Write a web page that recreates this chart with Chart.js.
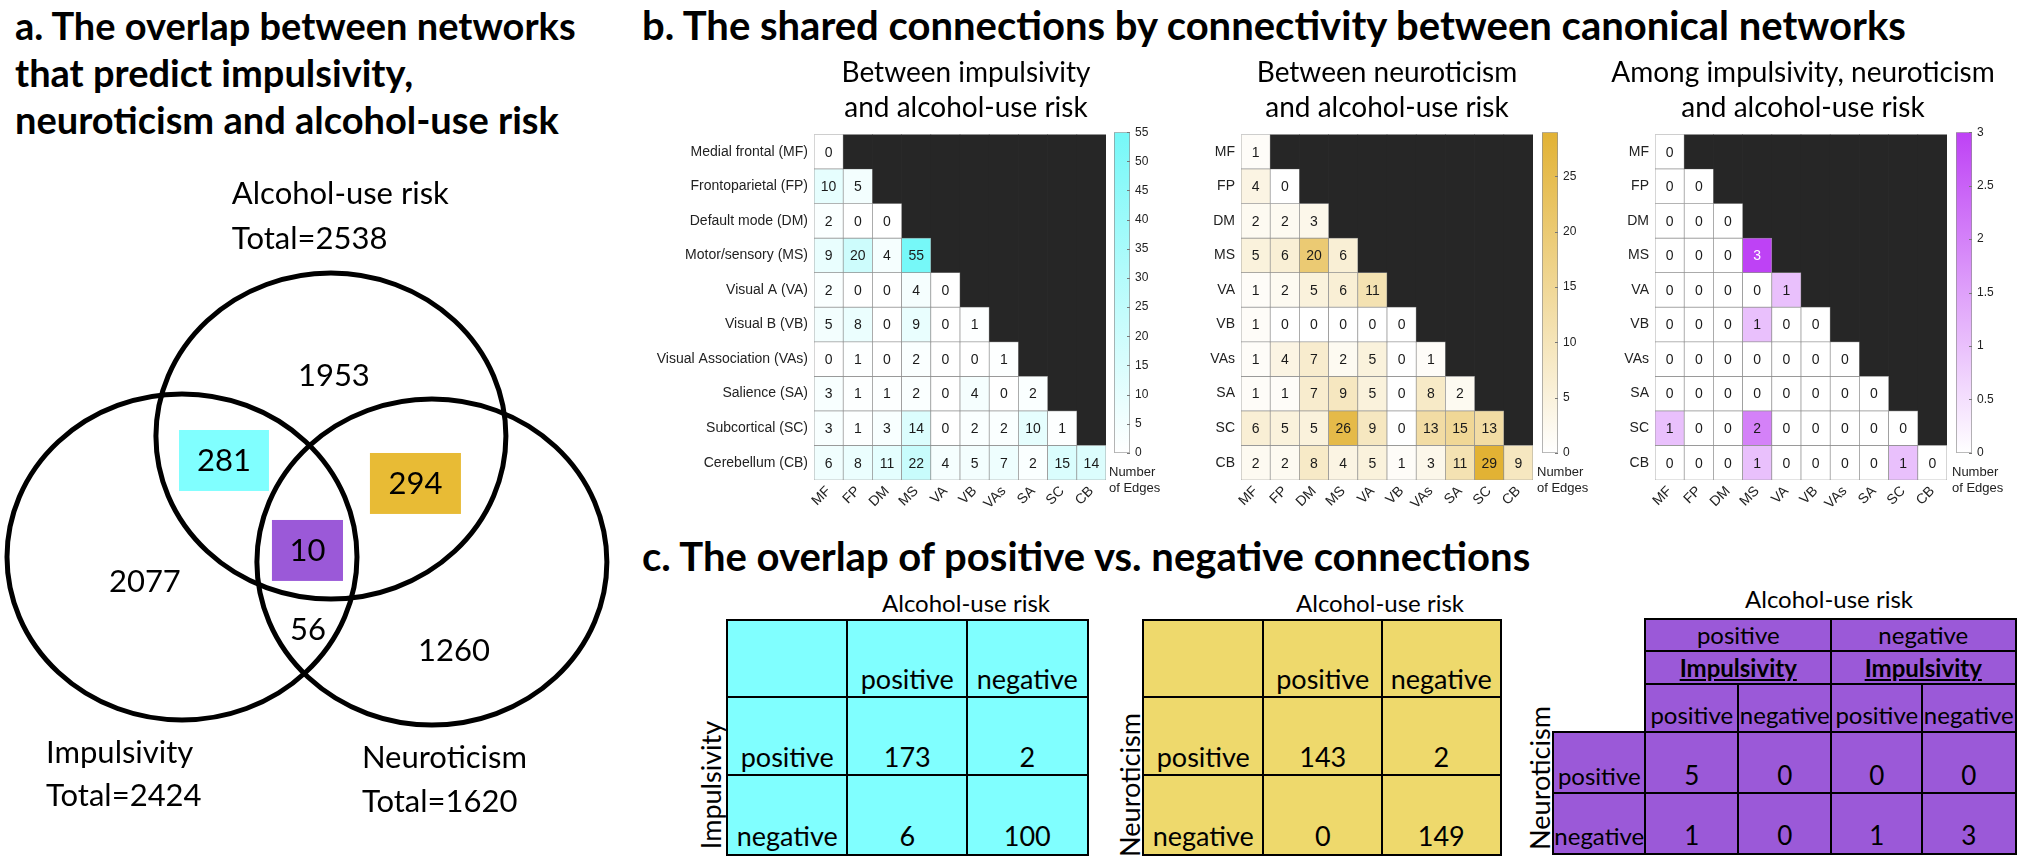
<!DOCTYPE html>
<html>
<head>
<meta charset="utf-8">
<script src="https://cdn.jsdelivr.net/npm/chart.js@4.4.0/dist/chart.umd.min.js"></script>
<style>
  body { margin: 0; width: 2025px; height: 858px; background: #fff; position: relative; overflow: hidden; font-family: Lato, sans-serif; color: #000; }
  canvas { position: absolute; }
  .ptitle { position: absolute; font-weight: 700; font-size: 40px; line-height: 47px; white-space: nowrap; }
  .htitle { position: absolute; width: 420px; font-size: 28px; line-height: 35px; text-align: center; white-space: nowrap; }
  .cblab { position: absolute; font-family: 'Liberation Sans', Arial, sans-serif; font-size: 13px; line-height: 16px; color: #222; white-space: nowrap; }
  .tlab { position: absolute; font-size: 24px; white-space: nowrap; transform: translate(-50%, -50%); }
  .vert { position: absolute; font-size: 27px; white-space: nowrap; transform: translate(-50%, -50%) rotate(-90deg); }
  .cell { position: absolute; box-sizing: border-box; border: 2.5px solid #000; display: flex; justify-content: center; white-space: nowrap; }
</style>
</head>
<body>
<div class="ptitle" style="left:15px;top:2px;font-size:38px">a. The overlap between networks<br>that predict impulsivity,<br>neuroticism and alcohol-use risk</div>
<div class="ptitle" style="left:642px;top:2px">b. The shared connections by connectivity between canonical networks</div>
<div class="ptitle" style="left:642px;top:533px">c. The overlap of positive vs. negative connections</div>

<script>
// ---- data ----
const netNames = ['Medial frontal (MF)', 'Frontoparietal (FP)', 'Default mode (DM)', 'Motor/sensory (MS)',
  'Visual A (VA)', 'Visual B (VB)', 'Visual Association (VAs)', 'Salience (SA)', 'Subcortical (SC)', 'Cerebellum (CB)'];
const netShort = ['MF', 'FP', 'DM', 'MS', 'VA', 'VB', 'VAs', 'SA', 'SC', 'CB'];

const edgesImpAlc = [
  [0],
  [10, 5],
  [2, 0, 0],
  [9, 20, 4, 55],
  [2, 0, 0, 4, 0],
  [5, 8, 0, 9, 0, 1],
  [0, 1, 0, 2, 0, 0, 1],
  [3, 1, 1, 2, 0, 4, 0, 2],
  [3, 1, 3, 14, 0, 2, 2, 10, 1],
  [6, 8, 11, 22, 4, 5, 7, 2, 15, 14]
];
const edgesNeuAlc = [
  [1],
  [4, 0],
  [2, 2, 3],
  [5, 6, 20, 6],
  [1, 2, 5, 6, 11],
  [1, 0, 0, 0, 0, 0],
  [1, 4, 7, 2, 5, 0, 1],
  [1, 1, 7, 9, 5, 0, 8, 2],
  [6, 5, 5, 26, 9, 0, 13, 15, 13],
  [2, 2, 8, 4, 5, 1, 3, 11, 29, 9]
];
const edgesAll = [
  [0],
  [0, 0],
  [0, 0, 0],
  [0, 0, 0, 3],
  [0, 0, 0, 0, 1],
  [0, 0, 0, 1, 0, 0],
  [0, 0, 0, 0, 0, 0, 0],
  [0, 0, 0, 0, 0, 0, 0, 0],
  [1, 0, 0, 2, 0, 0, 0, 0, 0],
  [0, 0, 0, 1, 0, 0, 0, 0, 1, 0]
];
const heatTitles = ['Between impulsivity<br>and alcohol-use risk', 'Between neuroticism<br>and alcohol-use risk',
  'Among impulsivity, neuroticism<br>and alcohol-use risk'];
const colorbarMax = [55, 29, 3];
const colorbarStep = [5, 5, 0.5];

const vennSets = ['Alcohol-use risk', 'Impulsivity', 'Neuroticism'];
const vennTotals = [2538, 2424, 1620];
// alcohol only, impulsivity only, neuroticism only, imp&alc, neu&alc, imp&neu, all three
const vennCounts = [1953, 2077, 1260, 281, 294, 56, 10];

const signs = ['positive', 'negative'];
const tableImpAlc = [[173, 2], [6, 100]];
const tableNeuAlc = [[143, 2], [0, 149]];
// rows: neuroticism +/-; cols: alcohol+ (imp+, imp-), alcohol- (imp+, imp-)
const tableAll = [[5, 0, 0, 0], [1, 0, 1, 3]];

// ---- styles / layout ----
const heatHi = [[118, 248, 248], [226, 178, 52], [190, 66, 245]];
const venFill = ['#80ffff', '#e8bb35', '#9b59d8'];
const tableBg = ['#80ffff', '#eed96c', '#9b59d8'];
const axisFont = { family: "'Liberation Sans', Arial, sans-serif", size: 14 };

function mix(t, hi) {
  t = Math.max(0, Math.min(1, t));
  return hi.map(c => Math.round(255 + (c - 255) * t));
}
const rgb = c => `rgb(${c[0]},${c[1]},${c[2]})`;

function addCanvas(left, top, w, h) {
  const c = document.createElement('canvas');
  c.width = w; c.height = h;
  c.style.left = left + 'px'; c.style.top = top + 'px';
  c.style.width = w + 'px'; c.style.height = h + 'px';
  document.body.appendChild(c);
  return c;
}
function addDiv(cls, html, style) {
  const d = document.createElement('div');
  d.className = cls; d.innerHTML = html;
  Object.assign(d.style, style);
  document.body.appendChild(d);
  return d;
}

const cellText = {
  id: 'cellText',
  afterDatasetsDraw(chart) {
    const ctx = chart.ctx;
    ctx.save();
    ctx.font = `14px ${axisFont.family}`;
    ctx.textAlign = 'center';
    ctx.textBaseline = 'middle';
    chart.data.datasets.forEach((ds, di) => {
      if (!ds.values) return;
      chart.getDatasetMeta(di).data.forEach((el, j) => {
        if (j >= ds.values.length) return;
        const c = mix(ds.values[j] / ds.maxVal, ds.hi);
        const lum = (0.299 * c[0] + 0.587 * c[1] + 0.114 * c[2]) / 255;
        ctx.fillStyle = lum < 0.5 ? '#fff' : '#1a1a1a';
        ctx.fillText(String(ds.values[j]), el.x, (el.y + el.base) / 2 + 1);
      });
    });
    ctx.restore();
  }
};

// small inward tick marks on the colorbar's right edge
const cbTicks = {
  id: 'cbTicks',
  afterDraw(chart) {
    const { ctx, chartArea: a, scales: { y } } = chart;
    ctx.save();
    ctx.strokeStyle = '#777';
    ctx.lineWidth = 1;
    y.ticks.forEach(t => {
      const p = Math.round(y.getPixelForValue(t.value)) + 0.5;
      ctx.beginPath();
      ctx.moveTo(a.right - 3, p);
      ctx.lineTo(a.right, p);
      ctx.stroke();
    });
    ctx.restore();
  }
};

function heatmap(cv, rows, yLabels, maxVal, hi, yW, padR) {
  const datasets = [{
    data: netShort.map((_, j) => j > 0 ? [0, j] : null),
    backgroundColor: '#262626', borderWidth: 0, order: 5
  }];
  rows.forEach((row, i) => {
    datasets.push({
      data: netShort.map((_, j) => j <= i ? [i, i + 1] : null),
      values: row, maxVal: maxVal, hi: hi,
      backgroundColor: netShort.map((_, j) => j <= i ? rgb(mix(row[j] / maxVal, hi)) : 'transparent'),
      borderColor: '#8f8f8f', borderWidth: 0.7, borderSkipped: false, order: 1
    });
  });
  new Chart(cv, {
    type: 'bar',
    data: { labels: netShort, datasets },
    options: {
      responsive: false, animation: false, devicePixelRatio: 1, events: [],
      layout: { padding: { top: 9, right: padR, bottom: 0, left: 0 } },
      datasets: { bar: { grouped: false, barPercentage: 1, categoryPercentage: 1 } },
      plugins: { legend: { display: false }, tooltip: { enabled: false } },
      scales: {
        x: {
          grid: { display: false, drawTicks: false }, border: { display: false },
          ticks: { minRotation: 45, maxRotation: 45, autoSkip: false, padding: 3, font: axisFont, color: '#222' },
          afterFit: s => { s.height = 50; }
        },
        y: {
          type: 'linear', min: 0, max: 10, reverse: true,
          grid: { display: false, drawTicks: false }, border: { display: false },
          afterBuildTicks: s => { s.ticks = yLabels.map((_, i) => ({ value: i + 0.5 })); },
          ticks: { autoSkip: false, padding: 6, font: axisFont, color: '#222', callback: (v, i) => yLabels[i] },
          afterFit: s => { s.width = yW; }
        }
      }
    },
    plugins: [cellText]
  });
}

function colorbar(cv, maxVal, step, hi) {
  new Chart(cv, {
    type: 'bar',
    data: {
      labels: [''],
      datasets: [{
        data: [[0, maxVal]],
        backgroundColor: c => {
          const a = c.chart.chartArea;
          if (!a) return null;
          const g = c.chart.ctx.createLinearGradient(0, a.bottom, 0, a.top);
          g.addColorStop(0, '#ffffff');
          g.addColorStop(1, rgb(hi));
          return g;
        },
        borderColor: '#8f8f8f', borderWidth: 1, borderSkipped: false,
        barPercentage: 1, categoryPercentage: 1
      }]
    },
    options: {
      responsive: false, animation: false, devicePixelRatio: 1, events: [],
      layout: { padding: { top: 10, bottom: 10, left: 10, right: 0 } },
      plugins: { legend: { display: false }, tooltip: { enabled: false } },
      scales: {
        x: { display: false },
        y: {
          position: 'right', min: 0, max: maxVal,
          grid: { display: false, drawTicks: false }, border: { display: false },
          ticks: { stepSize: step, includeBounds: false, padding: 5, color: '#222',
            font: { family: axisFont.family, size: 12 }, callback: v => String(v) },
          afterFit: s => { s.width = 44; }
        }
      }
    },
    plugins: [cbTicks]
  });
}

// Venn geometry in circle-radius units (layout only)
const vennCenters = [{ x: 0.137, y: 0.515 }, { x: -0.714, y: -0.227 }, { x: 0.714, y: -0.258 }];
const vennCountPos = [[0.154, 0.89], [-0.926, -0.374], [0.84, -0.798], [-0.474, 0.365], [0.62, 0.224], [0.006, -0.669], [0.003, -0.187]];
const vennBoxes = { 3: [0.257, 0.187, 0], 4: [0.26, 0.187, 1], 6: [0.203, 0.187, 2] };
const vennLabelPos = [[-0.429, 2.0, 1.724], [-1.491, -1.429, -1.693], [0.314, -1.46, -1.73]];

const vennDraw = {
  id: 'vennDraw',
  afterDatasetsDraw(chart) {
    const { ctx, scales: { x, y } } = chart;
    const px = v => x.getPixelForValue(v), py = v => y.getPixelForValue(v);
    const rx = px(1) - px(0), ry = py(0) - py(1);
    ctx.save();
    Object.keys(vennBoxes).forEach(k => {
      const [hw, hh, ci] = vennBoxes[k];
      const [cx, cy] = vennCountPos[k];
      ctx.fillStyle = venFill[ci];
      ctx.fillRect(px(cx - hw), py(cy + hh), rx * 2 * hw, ry * 2 * hh);
    });
    ctx.lineWidth = 5;
    ctx.strokeStyle = '#000';
    chart.getDatasetMeta(0).data.forEach(pt => {
      ctx.beginPath();
      ctx.ellipse(pt.x, pt.y, rx, ry, 0, 0, 2 * Math.PI);
      ctx.stroke();
    });
    ctx.fillStyle = '#000';
    ctx.font = '31px Lato';
    ctx.textAlign = 'center';
    ctx.textBaseline = 'middle';
    vennCounts.forEach((n, k) => ctx.fillText(String(n), px(vennCountPos[k][0]), py(vennCountPos[k][1]) + 1));
    ctx.textAlign = 'left';
    vennSets.forEach((s, k) => {
      const [lx, y1, y2] = vennLabelPos[k];
      ctx.fillText(s, px(lx), py(y1));
      ctx.fillText('Total=' + vennTotals[k], px(lx), py(y2));
    });
    ctx.restore();
  }
};

function venn() {
  const cv = addCanvas(0, 150, 620, 708);
  new Chart(cv, {
    type: 'scatter',
    data: { datasets: [{ data: vennCenters, pointRadius: 0 }] },
    options: {
      responsive: false, animation: false, devicePixelRatio: 1, events: [],
      layout: { padding: 0 },
      plugins: { legend: { display: false }, tooltip: { enabled: false } },
      scales: { x: { display: false, min: -1.754, max: 1.789 }, y: { display: false, min: -2.074, max: 2.27 } }
    },
    plugins: [vennDraw]
  });
}

function cell(l, t, r, b, html, bg, extra) {
  return addDiv('cell', html, Object.assign({
    left: l + 'px', top: t + 'px', width: (r - l + 2.5) + 'px', height: (b - t + 2.5) + 'px',
    background: bg, alignItems: 'flex-end', paddingBottom: '3px', fontSize: '27px', lineHeight: '30px'
  }, extra || {}));
}

function twoByTwo(cols, rowsY, values, bg) {
  cell(cols[0], rowsY[0], cols[1], rowsY[1], '', bg);
  signs.forEach((s, j) => cell(cols[j + 1], rowsY[0], cols[j + 2], rowsY[1], s, bg));
  signs.forEach((s, i) => {
    cell(cols[0], rowsY[i + 1], cols[1], rowsY[i + 2], s, bg);
    values[i].forEach((v, j) => cell(cols[j + 1], rowsY[i + 1], cols[j + 2], rowsY[i + 2], String(v), bg));
  });
}

function build() {
  Chart.defaults.font.family = axisFont.family;
  venn();

  const hmCanvas = [[620, 500, 194, 14], [1160, 400, 81, 27], [1575, 390, 80, 18]];
  const hmRows = [edgesImpAlc, edgesNeuAlc, edgesAll];
  const hmYLabels = [netNames, netShort, netShort];
  const cbLeft = [1104, 1532, 1946];
  const titleCx = [966, 1387, 1803];
  const edgeLab = [1109, 1537, 1952];
  hmRows.forEach((rows, k) => {
    const [l, w, yW, pr] = hmCanvas[k];
    heatmap(addCanvas(l, 120, w, 410), rows, hmYLabels[k], colorbarMax[k], heatHi[k], yW, pr);
    colorbar(addCanvas(cbLeft[k], 120, 70, 345), colorbarMax[k], colorbarStep[k], heatHi[k]);
    addDiv('htitle', heatTitles[k], { left: (titleCx[k] - 210) + 'px', top: '54px' });
    addDiv('cblab', 'Number<br>of Edges', { left: edgeLab[k] + 'px', top: '464px' });
  });

  // panel c tables
  const rowsY = [619, 696, 774, 853];
  twoByTwo([726, 846, 966, 1086], rowsY, tableImpAlc, tableBg[0]);
  twoByTwo([1142, 1262, 1381, 1499], rowsY, tableNeuAlc, tableBg[1]);
  addDiv('tlab', 'Alcohol-use risk', { left: '966px', top: '602px' });
  addDiv('tlab', 'Alcohol-use risk', { left: '1380px', top: '602px' });
  addDiv('vert', 'Impulsivity', { left: '710px', top: '785px' });
  addDiv('vert', 'Neuroticism', { left: '1129px', top: '785px' });

  const c3 = [1552, 1644, 1737, 1830, 1921, 2014];
  const r3 = [618, 650, 683, 731, 792, 852];
  const bg3 = tableBg[2];
  const small = { fontSize: '24px', lineHeight: '28px' };
  const mid = Object.assign({ alignItems: 'center', paddingBottom: '0px' }, small);
  signs.forEach((s, g) => {
    cell(c3[1 + 2 * g], r3[0], c3[3 + 2 * g], r3[1], s, bg3, mid);
    cell(c3[1 + 2 * g], r3[1], c3[3 + 2 * g], r3[2], '<b><u>Impulsivity</u></b>', bg3, mid);
    signs.forEach((s2, j) => cell(c3[1 + 2 * g + j], r3[2], c3[2 + 2 * g + j], r3[3], s2, bg3, small));
  });
  signs.forEach((s, i) => {
    cell(c3[0], r3[3 + i], c3[1], r3[4 + i], s, bg3, small);
    tableAll[i].forEach((v, j) => cell(c3[1 + j], r3[3 + i], c3[2 + j], r3[4 + i], String(v), bg3, { fontSize: '26px' }));
  });
  addDiv('tlab', 'Alcohol-use risk', { left: '1829px', top: '598px' });
  addDiv('vert', 'Neuroticism', { left: '1539px', top: '778px' });
}

Promise.all([
  document.fonts.load('31px Lato'),
  document.fonts.load('700 40px Lato'),
  document.fonts.load('14px "Liberation Sans"')
]).then(build, build);
</script>
</body>
</html>
